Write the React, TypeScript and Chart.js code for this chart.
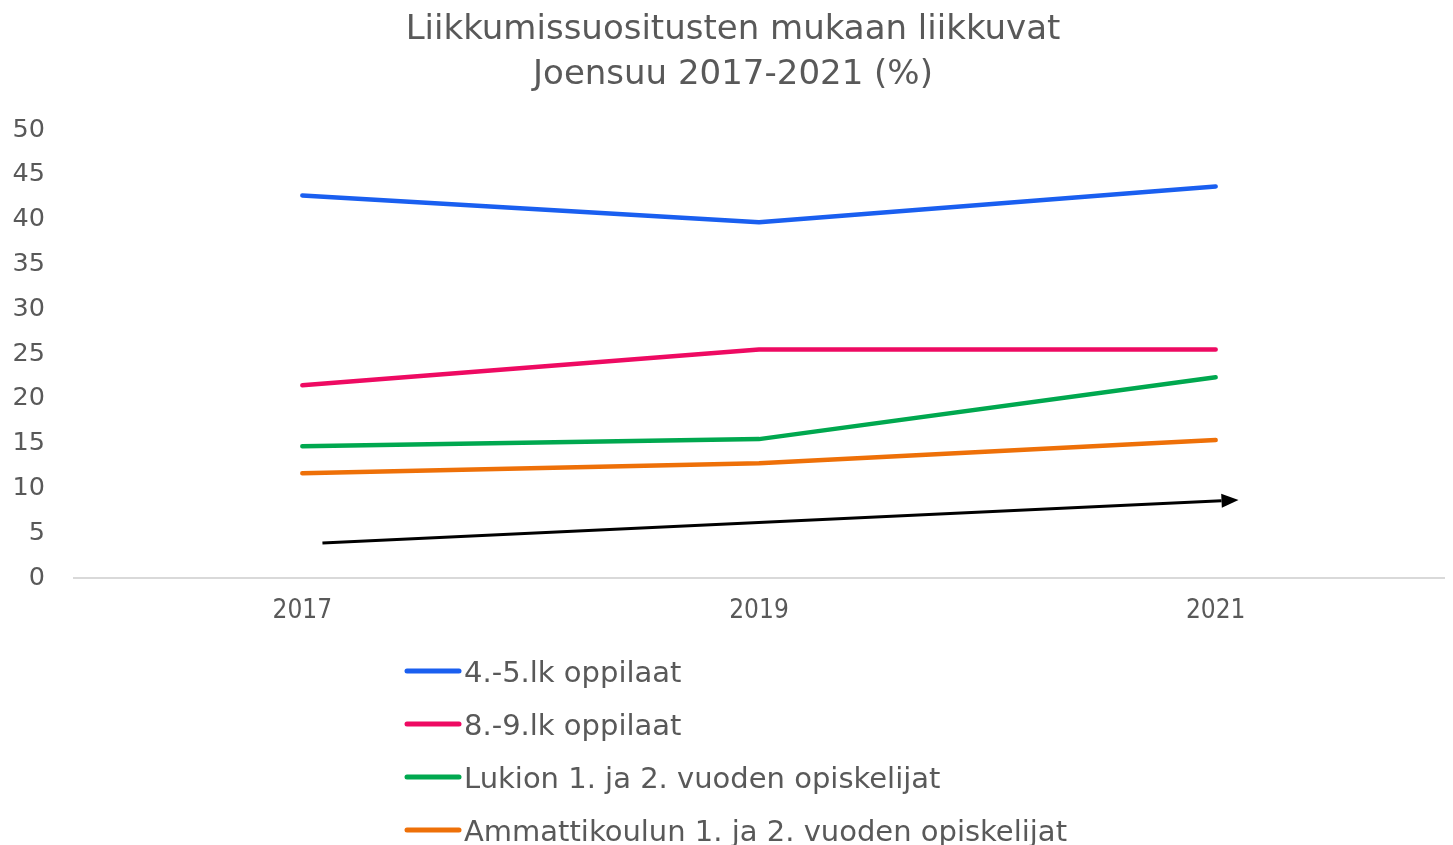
import React, { useEffect, useRef } from "react";
import { Chart, registerables } from "chart.js";

Chart.register(...registerables);

const TITLE_LINES = ["Liikkumissuositusten mukaan liikkuvat", "Joensuu 2017-2021 (%)"];
const YEARS = ["2017", "2019", "2021"];
const SERIES_LABELS = [
  "4.-5.lk oppilaat",
  "8.-9.lk oppilaat",
  "Lukion 1. ja 2. vuoden opiskelijat",
  "Ammattikoulun 1. ja 2. vuoden opiskelijat",
];
const GRADE_4_5 = [42.7, 39.7, 43.7];
const GRADE_8_9 = [21.5, 25.5, 25.5];
const LUKIO = [14.7, 15.5, 22.4];
const AMMATTIKOULU = [11.7, 12.8, 15.4];
const SERIES_COLORS = ["#1a5ff0", "#ee0a62", "#00a84f", "#ee7008"];
const Y_MIN = 0;
const Y_MAX = 50;
const Y_STEP = 5;
// trend arrow, in data space: [category index, value]
const ARROW_FROM = [0.044, 3.9];
const ARROW_TO = [2.05, 8.7];

const TEXT = "#595959";
const FONT = "'DejaVu Sans', sans-serif";

const decorPlugin = {
  id: "decor",
  afterDatasetsDraw(chart: any) {
    const ctx = chart.ctx;
    const xs = chart.scales.x;
    const ys = chart.scales.y;
    const p0 = xs.getPixelForTick(0);
    const p1 = xs.getPixelForTick(1);
    const px = (v: number) => p0 + v * (p1 - p0);
    const x1 = px(ARROW_FROM[0]);
    const y1 = ys.getPixelForValue(ARROW_FROM[1]);
    const x2 = px(ARROW_TO[0]);
    const y2 = ys.getPixelForValue(ARROW_TO[1]);
    const ang = Math.atan2(y2 - y1, x2 - x1);
    const headLen = 17;
    const headW = 7;
    ctx.save();
    ctx.strokeStyle = "#000";
    ctx.fillStyle = "#000";
    ctx.lineWidth = 3;
    ctx.beginPath();
    ctx.moveTo(x1, y1);
    ctx.lineTo(x2 - headLen * Math.cos(ang), y2 - headLen * Math.sin(ang));
    ctx.stroke();
    const bx = x2 - headLen * Math.cos(ang);
    const by = y2 - headLen * Math.sin(ang);
    ctx.beginPath();
    ctx.moveTo(x2, y2);
    ctx.lineTo(bx + headW * Math.sin(ang), by - headW * Math.cos(ang));
    ctx.lineTo(bx - headW * Math.sin(ang), by + headW * Math.cos(ang));
    ctx.closePath();
    ctx.fill();
    ctx.restore();
  },
  afterDraw(chart: any) {
    const ctx = chart.ctx;
    ctx.save();
    // title
    ctx.fillStyle = TEXT;
    ctx.font = `34px ${FONT}`;
    ctx.textAlign = "center";
    ctx.textBaseline = "alphabetic";
    TITLE_LINES.forEach((t, i) => ctx.fillText(t, 733, 39 + i * 45));
    // legend
    ctx.textAlign = "left";
    ctx.font = `29px ${FONT}`;
    chart.data.datasets.forEach((ds: any, i: number) => {
      const base = 682 + i * 53;
      ctx.strokeStyle = ds.borderColor;
      ctx.lineWidth = 5;
      ctx.lineCap = "round";
      ctx.beginPath();
      ctx.moveTo(407, base - 11);
      ctx.lineTo(459, base - 11);
      ctx.stroke();
      ctx.fillStyle = TEXT;
      ctx.fillText(ds.label, 464, base);
    });
    ctx.restore();
  },
};

export default function App() {
  const ref = useRef<HTMLCanvasElement>(null);
  useEffect(() => {
    if (!ref.current) return;
    const values = [GRADE_4_5, GRADE_8_9, LUKIO, AMMATTIKOULU];
    const chart = new Chart(ref.current, {
      type: "line",
      data: {
        labels: YEARS,
        datasets: values.map((v, i) => ({
          label: SERIES_LABELS[i],
          data: v,
          borderColor: SERIES_COLORS[i],
          backgroundColor: SERIES_COLORS[i],
          borderWidth: 4.5,
          pointRadius: 0,
          tension: 0,
          borderCapStyle: "round",
          borderJoinStyle: "round",
        })),
      },
      options: {
        animation: false,
        responsive: true,
        maintainAspectRatio: false,
        layout: { padding: { left: 0, right: 9, top: 130, bottom: 207 } },
        plugins: {
          legend: { display: false },
          title: { display: false },
          tooltip: { enabled: false },
        },
        scales: {
          x: {
            offset: true,
            grid: { color: "transparent", drawTicks: false },
            border: { display: true, color: "#d9d9d9", width: 2 },
            ticks: {
              color: TEXT,
              padding: 18,
              maxRotation: 0,
              font: { family: "'DejaVu Sans Condensed', 'DejaVu Sans', sans-serif", size: 26 },
            },
            afterFit: (s: any) => {
              s.height = 60;
            },
          },
          y: {
            min: Y_MIN,
            max: Y_MAX,
            grid: { display: false, drawTicks: false },
            border: { display: false },
            ticks: {
              stepSize: Y_STEP,
              color: TEXT,
              padding: 29,
              font: { family: FONT, size: 25.5 },
            },
            afterFit: (s: any) => {
              s.width = 74;
            },
          },
        },
      },
      plugins: [decorPlugin],
    });
    return () => chart.destroy();
  }, []);
  return (
    <div
      style={{
        position: "fixed",
        left: 0,
        top: 0,
        width: 1453,
        height: 845,
        background: "#fff",
        overflow: "hidden",
      }}
    >
      <canvas ref={ref} />
    </div>
  );
}
